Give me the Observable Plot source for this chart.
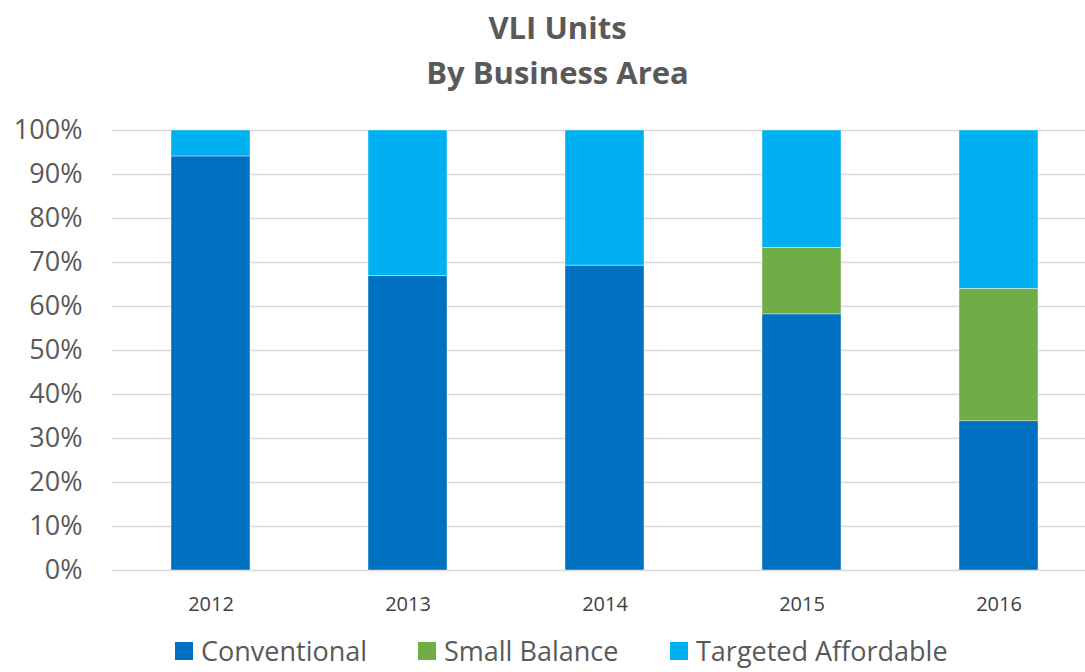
<!DOCTYPE html>
<html>
<head>
<meta charset="utf-8">
<script src="https://cdn.jsdelivr.net/npm/d3@7"></script>
<script src="https://cdn.jsdelivr.net/npm/@observablehq/plot@0.6"></script>
<style>
  html, body { margin: 0; padding: 0; background: #fff; width: 1085px; height: 672px; overflow: hidden; font-family: "Open Sans", sans-serif; }
  #title { position: absolute; left: 30px; top: 0; width: 1055px; text-align: center; color: #595959; font-weight: bold; font-size: 31px; line-height: 45px; padding-top: 5px; }
  #chart { position: absolute; left: 0; top: 110px; }
  #legend { position: absolute; top: 632px; left: 0; width: 1085px; height: 38px; color: #595959; font-size: 27px; line-height: 38px; }
  .item { position: absolute; top: 0; display: flex; align-items: center; height: 38px; }
  .sw { width: 18px; height: 18px; margin-right: 8px; }
</style>
</head>
<body>
<div id="title">VLI Units<br>By Business Area</div>
<div id="chart"></div>
<div id="legend"></div>
<script>
const years = ["2012", "2013", "2014", "2015", "2016"];
const series = ["Conventional", "Small Balance", "Targeted Affordable"];
const conventional = [94.1, 67.0, 69.3, 58.2, 33.9];
const smallBalance = [0, 0, 0, 15.1, 30.1];
const targetedAffordable = [5.9, 33.0, 30.7, 26.7, 36.0];
const colors = ["#0070C0", "#70AD47", "#00B0F0"];
const yTicks = [0, 10, 20, 30, 40, 50, 60, 70, 80, 90, 100];

const valuesBySeries = [conventional, smallBalance, targetedAffordable];
const data = [];
series.forEach((s, i) => years.forEach((y, j) => data.push({year: y, series: s, value: valuesBySeries[i][j]})));

const chart = Plot.plot({
  width: 1085,
  height: 510,
  marginTop: 20,
  marginLeft: 112,
  marginRight: 0,
  marginBottom: 50,
  style: {fontFamily: "Open Sans, sans-serif", color: "#595959"},
  x: {domain: years, range: [112, 1097], paddingInner: 0.6, paddingOuter: 0.3, label: null},
  y: {domain: [0, 100], label: null},
  color: {domain: series, range: colors},
  marks: [
    Plot.ruleY(yTicks, {stroke: "#d9d9d9", strokeWidth: 1.5}),
    Plot.barY(data, {x: "year", y: "value", fill: "series", order: series, stroke: "#ffffff", strokeWidth: 0.4}),
    Plot.axisY(yTicks, {tickSize: 0, tickPadding: 30, tickFormat: d => d + "%", fontSize: 27, fill: "#595959", label: null}),
    Plot.axisX({tickSize: 0, tickPadding: 26, fontSize: 20, fill: "#404040", label: null})
  ]
});
document.getElementById("chart").appendChild(chart);

const legend = document.getElementById("legend");
const lefts = [175, 418, 670];
series.forEach((s, i) => {
  const it = document.createElement("div");
  it.className = "item";
  it.style.left = lefts[i] + "px";
  it.innerHTML = `<div class="sw" style="background:${colors[i]}"></div><span>${s}</span>`;
  legend.appendChild(it);
});
</script>
</body>
</html>
